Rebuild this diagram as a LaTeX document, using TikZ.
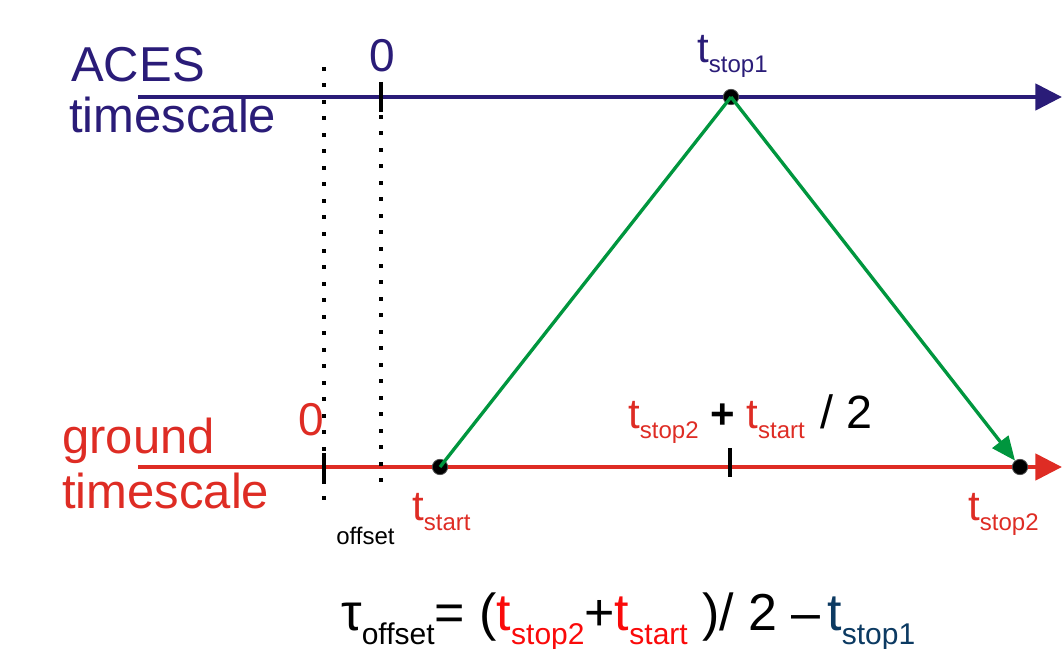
\documentclass[tikz,border=0pt]{standalone}
\usepackage{fontspec}
\setmainfont{Liberation Sans}
\usetikzlibrary{arrows.meta}
\definecolor{navy}{RGB}{42,28,120}
\definecolor{gred}{RGB}{222,44,36}
\definecolor{ggreen}{RGB}{0,150,62}
\definecolor{fred}{RGB}{250,10,10}
\definecolor{fteal}{RGB}{12,58,98}
\newcommand\tsb[1]{t\raisebox{-7.5pt}{\fontsize{18}{18}\selectfont #1}}
\newcommand\fsb[1]{\raisebox{-10.5pt}{\fontsize{22.5}{23}\selectfont #1}}
\begin{document}
\begin{tikzpicture}[x=0.75pt,y=-0.75pt,
  axis/.style={line width=3.6pt,-{Triangle[length=20pt,width=19.5pt]}},
  dotsq/.style={fill=black},
  tickmark/.style={line width=2.6pt, black},
  evt/.style={circle, fill=black, draw=black!70, line width=0.6pt, inner sep=0pt, minimum size=11.5pt},
  sig/.style={line width=2.5pt, ggreen},
  lbl/.style={inner sep=0pt, anchor=base west},
  big/.style={font=\fontsize{36.75}{40}\selectfont},
  tfont/.style={font=\fontsize{31.5}{34}\selectfont},
  zfont/.style={font=\fontsize{34.5}{36}\selectfont}]
\useasboundingbox (0,0) rectangle (1064,649);

% axes
\coordinate (b0) at (138,97);
\coordinate (b1) at (1062,97);
\coordinate (r0) at (138,467);
\coordinate (r1) at (1062,467);
\draw[axis,navy] (b0) -- (b1);
\draw[axis,gred] (r0) -- (r1);

% dotted lines (square dots)
\foreach \k in {0,...,26} \fill[dotsq] (322,{67+16.5*\k}) rectangle +(4,4);
\foreach \k in {0,...,24} \fill[dotsq] (379,{82+16.5*\k}) rectangle +(4,4);

% ticks
\coordinate (k1a) at (381,82);
\coordinate (k1b) at (381,112);
\coordinate (k2a) at (324,453);
\coordinate (k2b) at (324,483);
\coordinate (k3a) at (730,448);
\coordinate (k3b) at (730,477);
\draw[tickmark] (k1a) -- (k1b);
\draw[tickmark] (k2a) -- (k2b);
\draw[tickmark] (k3a) -- (k3b);

% events
\node[evt] (s1) at (731,97) {};
\node[evt] (g0) at (440,467) {};
\node[evt] (g2) at (1020,467) {};
\draw[sig] (g0.center) -- (s1.center);
\draw[sig,-{Triangle[length=18pt,width=15pt]}] (s1.center) -- (g2);

% axis labels
\node[lbl,big,text=navy] (aces) at (71,82) {ACES};
\node[lbl,big,text=navy] (ts1) at (69,133) {timescale};
\node[lbl,big,text=gred] (grd) at (62,453) {ground};
\node[lbl,big,text=gred] (ts2) at (62,508) {timescale};

% zeros
\node[inner sep=0pt,anchor=base,zfont,text=navy] (z1) at (382,72) {0};
\node[inner sep=0pt,anchor=base,zfont,text=gred] (z2) at (311,435) {0};

% event labels
\node[lbl,tfont,text=navy] (ls1) at (697,63) {\tsb{stop1}};
\node[lbl,tfont,text=gred] (lg0) at (412,520) {\tsb{start}};
\node[lbl,tfont,text=gred] (lg2) at (968,520) {\tsb{stop2}};
\node[lbl,tfont,text=gred] (mid) at (628,428) {\tsb{stop2} \textcolor{black}{\textbf{+}} \tsb{start}\hspace{3pt} \textcolor{black}{\fontsize{35}{36}\selectfont / 2}};

\node[lbl,font=\fontsize{18}{18}\selectfont] (off) at (336,544) {offset};

% formula
\node[lbl,font=\fontsize{39}{42}\selectfont] (form) at (341,630)
  {τ\fsb{offset}= (\textcolor{fred}{t\fsb{stop2}}+\textcolor{fred}{t\fsb{start}} )/ 2 –\hspace{5pt}\textcolor{fteal}{t\fsb{stop1}}};
\end{tikzpicture}
\end{document}
